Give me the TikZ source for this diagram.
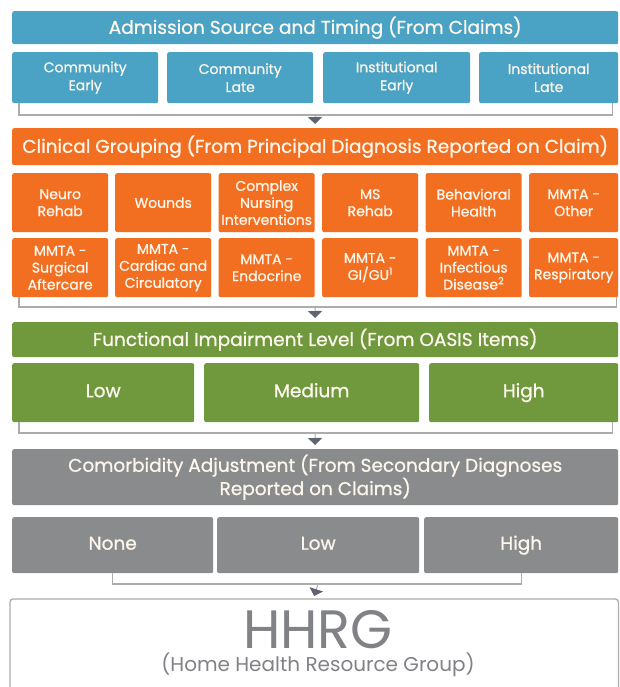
\documentclass[tikz,border=0pt]{standalone}
\usepackage{fontspec}
\setmainfont{Poppins}[FakeBold=0.9]
\newfontfamily\bookfont{Poppins}
\usetikzlibrary{
  arrows.meta
}
\definecolor{hhblue}{RGB}{74,162,196}
\definecolor{hhorange}{RGB}{242,111,33}
\definecolor{hhgreen}{RGB}{112,153,62}
\definecolor{hhgrey}{RGB}{137,139,141}
\definecolor{txtcol}{RGB}{252,246,236}
\definecolor{brcol}{RGB}{172,172,172}
\definecolor{tipcol}{RGB}{95,100,112}
\definecolor{hhtext}{RGB}{128,130,133}

\begin{document}
\begin{tikzpicture}[
    x=1pt, y=-1pt,
    band/.style={
      rectangle,
      rounded corners=2pt,
      anchor=north west,
      inner sep=0pt,
      align=center,
      text=txtcol,
      minimum width=606pt,
      font=\fontsize{18.5}{22}\selectfont
    },
    cell/.style={
      rectangle,
      rounded corners=2pt,
      anchor=north west,
      inner sep=0pt,
      align=center,
      text=txtcol
    },
    bluecell/.style={cell, fill=hhblue, minimum height=51pt, font=\fontsize{14}{18}\selectfont},
    orangecell/.style={cell, fill=hhorange, minimum height=59pt, font=\fontsize{14}{17}\selectfont},
    greencell/.style={cell, fill=hhgreen, minimum height=59pt, text height=13pt, text depth=4pt, font=\fontsize{18.5}{20}\selectfont},
    greycell/.style={cell, fill=hhgrey, minimum height=56pt, text height=13pt, text depth=4pt, font=\fontsize{18.5}{20}\selectfont},
    bracket/.style={draw=brcol, line width=1.3pt},
    flow/.style={brcol, line width=1pt, -{Triangle[width=14pt,length=7pt,color=tipcol,fill=tipcol]}}
  ]
  \useasboundingbox[fill=white] (0,0) rectangle (620,687);

  % admission source and timing
  \node[band, fill=hhblue, minimum height=33pt] (adm) at (12,11) {Admission Source and Timing (From Claims)};
  \node[bluecell, minimum width=146pt] (ce) at (12,52) {Community\\Early};
  \node[bluecell, minimum width=146pt] (cl) at (167,52) {Community\\Late};
  \node[bluecell, minimum width=147pt] (ie) at (323,52) {Institutional\\Early};
  \node[bluecell, minimum width=139pt] (il) at (479,52) {Institutional\\Late};

  \coordinate (m1) at (315,115);
  \draw[bracket] ([xshift=7pt]ce.south west) |- (m1) -| ([xshift=-6pt]il.south east);

  % clinical grouping
  \node[band, fill=hhorange, minimum height=37pt] (cg) at (12,128) {Clinical Grouping (From Principal Diagnosis Reported on Claim)};
  \draw[flow] (m1) -- ([yshift=4pt]cg.north);

  \node[orangecell, minimum width=96pt] (neuro) at (12,173) {Neuro\\Rehab};
  \node[orangecell, minimum width=96pt] (wounds) at (115,173) {Wounds};
  \node[orangecell, minimum width=96pt] (nursing) at (218.5,173) {Complex\\Nursing\\Interventions};
  \node[orangecell, minimum width=96pt] (ms) at (322,173) {MS\\Rehab};
  \node[orangecell, minimum width=96pt] (behav) at (425.5,173) {Behavioral\\Health};
  \node[orangecell, minimum width=89pt] (other) at (529,173) {MMTA -\\Other};

  \node[orangecell, minimum width=96pt] (surg) at (12,238) {MMTA -\\Surgical\\Aftercare};
  \node[orangecell, minimum width=96pt] (card) at (115,238) {MMTA -\\Cardiac and\\Circulatory};
  \node[orangecell, minimum width=96pt] (endo) at (218.5,238) {MMTA -\\Endocrine};
  \node[orangecell, minimum width=96pt] (gigu) at (322,238) {MMTA -\\GI/GU\textsuperscript{1}};
  \node[orangecell, minimum width=96pt] (infec) at (425.5,238) {MMTA -\\Infectious\\Disease\textsuperscript{2}};
  \node[orangecell, minimum width=89pt] (resp) at (529,238) {MMTA -\\Respiratory};

  \coordinate (m2) at (315,307);
  \draw[bracket] ([xshift=7pt]surg.south west) |- (m2) -| ([xshift=-2pt]resp.south east);

  % functional impairment
  \node[band, fill=hhgreen, minimum height=35pt] (func) at (12,322) {Functional Impairment Level (From OASIS Items)};
  \draw[flow] (m2) -- ([yshift=4pt]func.north);

  \node[greencell, minimum width=182pt] (flow) at (12,363) {Low};
  \node[greencell, minimum width=215pt] (fmed) at (204,363) {Medium};
  \node[greencell, minimum width=189pt] (fhigh) at (429,363) {High};

  \coordinate (m3) at (315,433);
  \draw[bracket] ([xshift=7pt]flow.south west) |- (m3) -| ([xshift=-6pt]fhigh.south east);

  % comorbidity adjustment
  \node[band, fill=hhgrey, minimum height=56pt] (comorb) at (12,449) {Comorbidity Adjustment (From Secondary Diagnoses\\Reported on Claims)};
  \draw[flow] (m3) -- ([yshift=4pt]comorb.north);

  \node[greycell, minimum width=201pt] (cnone) at (12,517) {None};
  \node[greycell, minimum width=202pt] (clow) at (217,517) {Low};
  \node[greycell, minimum width=194pt] (chigh) at (424,517) {High};

  \coordinate (m4) at (318,584);
  \draw[bracket] (cnone.south) |- (m4) -| (chigh.south);

  % result
  \node[rectangle, anchor=north west, minimum width=608pt, minimum height=88pt] (hhrg) at (10,599) {};
  \draw[draw=brcol, line width=1.3pt, rounded corners=3pt] (hhrg.south west) |- (hhrg.north east) -- (hhrg.south east);
  \draw[flow] (m4) -- ([yshift=3pt]hhrg.north);
  \node[text=hhtext, inner sep=0pt, font=\bookfont\fontsize{54}{54}\selectfont] (hhrgname) at (318,630) {HHRG};
  \node[text=hhtext, inner sep=0pt, font=\bookfont\fontsize{20}{22}\selectfont] (hhrgsub) at (318,665) {(Home Health Resource Group)};
\end{tikzpicture}
\end{document}
